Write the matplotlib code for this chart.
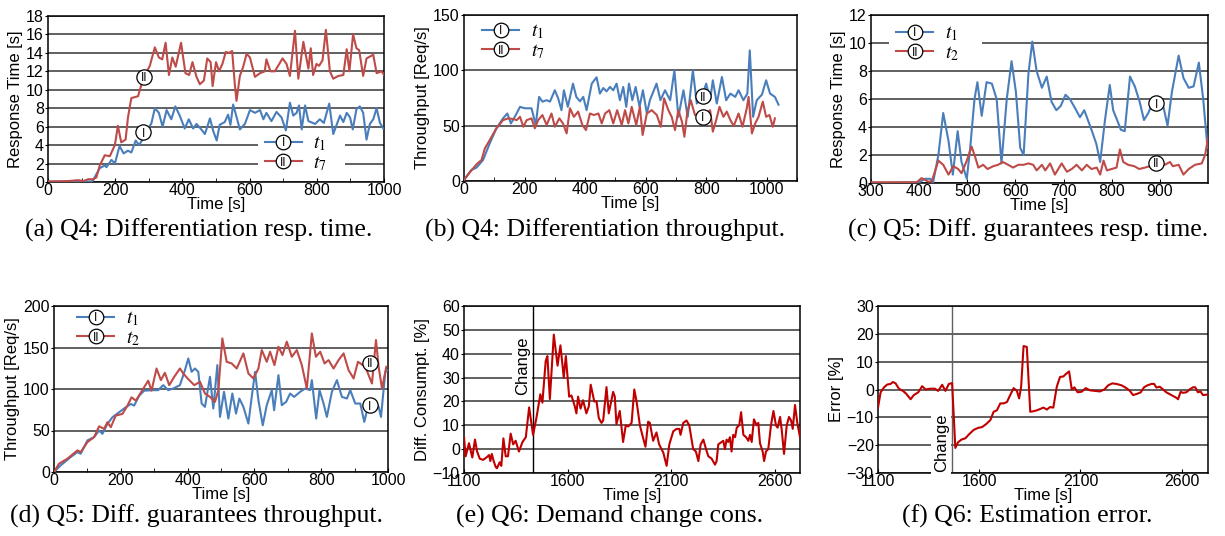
import numpy as np
import matplotlib
matplotlib.use("Agg")
import matplotlib.pyplot as plt
from matplotlib.lines import Line2D
from matplotlib.text import Text
from matplotlib.patches import Rectangle
from matplotlib.legend_handler import HandlerBase
from matplotlib.ticker import MultipleLocator

plt.rcParams['font.family'] = ['Liberation Sans', 'DejaVu Sans']
plt.rcParams['mathtext.fontset'] = 'stix'

# ---------------- data ----------------
# (a) Q4 response time, t1 and t7
a_t1 = [(0, 0.05), (50, 0.05), (100, 0.08), (130, 0.05), (134, 0.2), (154, 1.5), (169, 1.8), (174, 1.6),
        (189, 2.4), (199, 2.0), (213, 3.9), (225, 3.1), (238, 3.4), (248, 3.2), (261, 4.5), (271, 4.0),
        (283, 4.7), (308, 6.4), (318, 8.0), (330, 7.5), (341, 6.0), (353, 7.8), (367, 6.8), (379, 8.2),
        (392, 7.2), (407, 5.8), (419, 6.8), (432, 5.8), (442, 6.3), (454, 5.8), (467, 5.2), (482, 6.9),
        (492, 5.5), (502, 4.5), (511, 6.2), (526, 6.5), (536, 7.3), (543, 6.2), (551, 8.4), (563, 6.8),
        (571, 5.7), (586, 6.3), (601, 7.8), (616, 7.5), (631, 7.8), (641, 6.8), (650, 7.5), (665, 6.6),
        (680, 7.6), (695, 7.0), (708, 5.6), (720, 8.6), (730, 7.2), (740, 7.5), (747, 8.3), (755, 5.7),
        (765, 8.3), (775, 6.6), (795, 6.3), (809, 6.8), (821, 6.4), (837, 8.5), (849, 5.2), (859, 6.2),
        (869, 7.2), (879, 6.5), (889, 7.5), (899, 7.0), (907, 5.7), (918, 7.9), (928, 8.2), (938, 7.5),
        (948, 4.6), (958, 6.3), (968, 6.8), (978, 8.0), (988, 6.4), (998, 5.8)]
a_t7 = [(0, 0.05), (60, 0.1), (90, 0.2), (105, 0.1), (120, 0.3), (135, 0.3), (144, 0.5), (154, 1.8),
        (169, 2.9), (184, 2.8), (199, 4.0), (208, 6.1), (218, 4.3), (231, 4.6), (238, 7.0), (248, 9.1),
        (268, 9.3), (283, 11.2), (303, 12.6), (318, 14.6), (330, 13.5), (340, 13.3), (350, 15.1),
        (360, 11.6), (370, 13.5), (380, 12.5), (396, 15.1), (409, 11.8), (420, 11.6), (430, 13.0),
        (442, 11.4), (452, 10.6), (464, 11.0), (474, 13.4), (484, 13.0), (490, 10.4), (500, 13.0),
        (509, 12.0), (519, 12.8), (529, 14.1), (539, 14.0), (548, 14.2), (556, 10.6), (561, 8.8),
        (571, 11.5), (581, 12.5), (591, 13.9), (601, 13.5), (616, 11.4), (631, 11.8), (645, 12.0),
        (650, 13.3), (662, 12.0), (675, 12.0), (685, 12.6), (698, 13.4), (710, 12.8), (720, 11.5),
        (735, 16.4), (745, 11.2), (760, 15.2), (775, 12.3), (782, 14.5), (789, 11.6), (799, 12.8),
        (807, 12.6), (817, 13.2), (827, 16.5), (839, 12.0), (849, 11.2), (864, 11.5), (879, 11.6),
        (889, 14.4), (897, 12.0), (908, 16.0), (918, 14.5), (926, 14.3), (938, 11.5), (948, 13.4),
        (958, 13.6), (968, 13.8), (978, 11.8), (993, 12.0), (1000, 11.6)]

# (b) Q4 throughput, t1 and t7
b_t1 = [(0, 1), (24, 10), (41, 12), (63, 19), (85, 34), (107, 47.6), (129, 56.6), (143, 61), (155, 52),
        (171, 59.6), (185, 67), (201, 65.7), (223, 65.7), (237, 50.6), (248, 76), (259, 71.7), (273, 73),
        (284, 71.7), (300, 82), (311, 74.7), (322, 64), (330, 82), (343, 67), (360, 88), (371, 76),
        (383, 72), (394, 76), (405, 64), (422, 88), (438, 93.7), (449, 79), (460, 84), (471, 81),
        (482, 85), (493, 82), (504, 88), (515, 73), (526, 85), (536, 67), (545, 88), (556, 73), (567, 85),
        (580, 67), (591, 82), (604, 61), (614, 73), (636, 88), (649, 73), (664, 82), (681, 73), (695, 100),
        (708, 58), (725, 82), (739, 58), (756, 100), (769, 70), (786, 76), (800, 88), (813, 73), (822, 91),
        (835, 70), (852, 94), (866, 73), (880, 79), (896, 76), (907, 82), (923, 73), (936, 79), (944, 118),
        (955, 58), (967, 73), (984, 78), (998, 91), (1011, 79), (1027, 76), (1039, 69)]
b_t7 = [(0, 1), (20, 8), (41, 15), (58, 19), (69, 29.5), (85, 37), (107, 47.6), (129, 55), (146, 56.6),
        (163, 56), (174, 55), (185, 58), (196, 49), (207, 55), (223, 56.6), (234, 47.6), (245, 55),
        (259, 59.6), (273, 50.6), (289, 61), (300, 49), (315, 56.6), (327, 52), (339, 43), (350, 65.7),
        (363, 58), (377, 62.7), (391, 50.6), (403, 46), (416, 61), (429, 59.6), (444, 61), (455, 52),
        (466, 61), (480, 64), (493, 52), (506, 64), (521, 50.6), (532, 64), (543, 52), (554, 67),
        (569, 50.6), (581, 67), (590, 41.6), (604, 61), (620, 64), (637, 59.6), (650, 49), (661, 74.7),
        (675, 64), (686, 58), (697, 46), (708, 64), (720, 53.6), (728, 40), (738, 62.7), (749, 73),
        (763, 59.6), (780, 61), (791, 50.6), (802, 61), (813, 64), (822, 44.6), (833, 55), (844, 67),
        (857, 58), (868, 62.7), (880, 55), (891, 49.7), (907, 61), (920, 49), (934, 65.7), (940, 76),
        (951, 43), (962, 52), (973, 58), (987, 71.7), (998, 58), (1009, 59.6), (1020, 49), (1027, 56.6)]

# (c) Q5 response time, t1 and t2
c_t1 = [(300, 0.02), (400, 0.05), (412, 0.3), (423, 0.3), (429, 0.05), (440, 2.0), (450, 5.0), (461, 3.0),
        (470, 0.6), (480, 3.7), (488, 1.5), (499, 0.3), (506, 2.5), (515, 6.0), (521, 7.2), (530, 4.8),
        (540, 7.2), (551, 7.1), (561, 6.0), (571, 1.4), (582, 6.0), (592, 8.7), (601, 6.5), (610, 2.5),
        (617, 2.0), (627, 7.8), (635, 10.1), (644, 8.0), (655, 6.8), (665, 7.6), (675, 5.8), (685, 5.2),
        (694, 5.5), (704, 6.3), (713, 6.0), (723, 5.4), (734, 4.7), (743, 5.2), (758, 3.8), (768, 2.8),
        (776, 1.5), (786, 4.5), (796, 7.0), (803, 5.2), (810, 4.6), (819, 3.8), (827, 3.7), (838, 7.6),
        (848, 6.9), (858, 5.8), (867, 4.5), (876, 5.0), (886, 5.8), (900, 5.7), (907, 5.5), (916, 4.1),
        (925, 6.5), (939, 9.1), (949, 7.5), (960, 6.8), (970, 6.9), (981, 8.6), (990, 6.0), (999, 2.5)]
c_t2 = [(300, 0.05), (395, 0.05), (405, 0.35), (419, 0.1), (426, 0.1), (440, 1.6), (450, 1.3), (461, 0.6),
        (471, 1.2), (481, 1.0), (488, 0.7), (499, 1.6), (509, 2.6), (516, 1.9), (523, 1.1), (533, 1.3),
        (542, 1.0), (554, 1.2), (564, 1.3), (574, 1.5), (585, 1.3), (595, 1.1), (606, 1.3), (617, 1.3),
        (627, 1.4), (637, 1.3), (644, 0.9), (655, 1.3), (662, 0.9), (672, 1.4), (682, 0.6), (696, 1.4),
        (707, 0.8), (717, 1.0), (727, 1.3), (738, 0.9), (748, 1.3), (758, 1.0), (769, 1.1), (776, 0.6),
        (783, 1.6), (790, 0.9), (800, 1.0), (810, 1.1), (817, 2.4), (824, 1.5), (834, 1.3), (847, 1.2),
        (857, 1.0), (869, 1.1), (879, 1.2), (893, 1.4), (910, 1.3), (921, 1.5), (927, 1.2), (939, 1.3),
        (949, 0.6), (960, 1.0), (973, 1.3), (987, 1.4), (994, 2.0), (1000, 3.2)]

# (d) Q5 throughput, t1 and t2
d_t1 = [(0, 0), (20, 8), (50, 18), (70, 24), (80, 22), (100, 38), (120, 42), (135, 50), (145, 46),
        (160, 58), (175, 66), (195, 72), (215, 78), (230, 82), (240, 80), (255, 92), (270, 98), (297, 98.6),
        (312, 98.6), (327, 104.6), (342, 98.6), (357, 100.6), (377, 104.6), (392, 122.7), (402, 136.8),
        (412, 120.7), (422, 124.7), (432, 120.7), (442, 82.5), (452, 78.5), (467, 114.7), (477, 76.5),
        (489, 128.8), (497, 66.4), (509, 96.6), (522, 64.4), (534, 94.6), (545, 70.4), (555, 88.5),
        (567, 78.5), (582, 58.4), (592, 90.5), (602, 120.7), (612, 86.5), (625, 56.3), (637, 80.5),
        (652, 98.6), (659, 74.4), (672, 116.7), (682, 80.5), (695, 84.5), (707, 94.6), (719, 90.5),
        (737, 96.6), (752, 100.6), (767, 98.6), (772, 110.7), (785, 64.4), (795, 98.6), (807, 82.5),
        (817, 66.4), (832, 96.6), (847, 110.7), (862, 90.5), (877, 88.5), (887, 98.6), (902, 82.5),
        (917, 82.5), (929, 60.4), (942, 82.5), (957, 86.5), (972, 78.5), (979, 66.4), (992, 120.7),
        (1000, 122.7)]
d_t2 = [(0, 0), (15, 10), (40, 16), (70, 26), (80, 24), (100, 36), (120, 42), (135, 55), (150, 52),
        (160, 60), (170, 54), (185, 68), (205, 70), (220, 80), (232, 90), (245, 86), (262, 97), (282, 110),
        (292, 98), (307, 124.7), (320, 110.7), (332, 119.5), (345, 104.6), (360, 114.7), (377, 124.7),
        (387, 118.7), (400, 112.7), (420, 104.6), (437, 108.7), (452, 94.6), (467, 90.5), (482, 84.5),
        (492, 98.6), (504, 161), (517, 132.8), (532, 130.8), (547, 124.7), (567, 142.9), (582, 118.7),
        (597, 112.7), (612, 124.7), (622, 146.9), (637, 132.8), (647, 144.9), (660, 128.8), (672, 151),
        (684, 140.9), (697, 157), (712, 138.8), (727, 146.9), (742, 128.8), (757, 100.6), (772, 167),
        (784, 138.8), (797, 144.9), (810, 130.8), (822, 134.8), (837, 124.7), (852, 134.8), (867, 142.9),
        (882, 122.7), (897, 112.7), (910, 132.8), (932, 126.7), (952, 106.6), (964, 159), (972, 126.7),
        (982, 100.6), (995, 126.7)]

# (e) Q6 difference in consumption [%]
e_diff = [(1100, 5), (1108, -3), (1124, 2.5), (1140, -3.5), (1153, 4), (1163, -1), (1176, -4), (1192, -4.5),
          (1208, -3.5), (1221, -2.5), (1227, -5), (1234, -2), (1243, -5), (1253, -7.5), (1259, -8),
          (1272, -5.5), (1280, -7), (1290, 4.5), (1301, -3), (1312, -3), (1325, 6.5), (1337, 2), (1349, 3.5),
          (1365, -1), (1382, 3), (1398, 5), (1414, 17.5), (1433, 6), (1449, 13), (1468, 23), (1478, 19.5),
          (1494, 37), (1502, 39), (1514, 21), (1533, 48), (1551, 35), (1565, 43.5), (1581, 30), (1591, 39),
          (1607, 22), (1618, 22.5), (1634, 18), (1642, 15), (1650, 22), (1662, 17), (1674, 20.5), (1690, 15),
          (1702, 18), (1711, 27), (1728, 20), (1739, 20), (1750, 13), (1763, 11), (1771, 12), (1787, 26),
          (1798, 15), (1819, 24), (1827, 22), (1835, 10.5), (1851, 16), (1867, 3), (1880, 10), (1892, 9.5),
          (1908, 11), (1921, 25), (1932, 20), (1948, 10), (1964, 4.5), (1975, 1), (1988, 11.5), (1996, 11),
          (2012, 3.5), (2028, 7), (2041, 2), (2061, -1.5), (2077, -7), (2090, 2), (2109, 7.5), (2125, 8.5),
          (2138, 8.5), (2144, 6), (2157, 11), (2173, 12), (2186, 10), (2205, 0), (2218, -1), (2230, -5),
          (2241, 2), (2254, 4), (2267, 0), (2278, -3), (2294, -4), (2310, -6.5), (2318, -5), (2326, 2),
          (2342, 3), (2350, 3.5), (2358, 0), (2366, 4), (2374, 3), (2382, 5), (2390, -1), (2398, 6),
          (2407, 5), (2415, 9), (2427, 10), (2436, 15.5), (2447, 6), (2460, 5), (2471, 3.5), (2479, 6),
          (2487, 3), (2498, 12.5), (2511, 10), (2519, 11), (2527, 2.5), (2540, -1), (2547, -5), (2556, -1),
          (2567, 0), (2580, 10), (2592, 16), (2604, 10), (2612, 9), (2624, 13.5), (2632, 8), (2643, -2),
          (2656, 10), (2667, 13.5), (2677, 12), (2685, 8.5), (2696, 18.5), (2707, 11), (2720, 5)]

# (f) Q6 estimation error [%]
f_err = [(1100, -6.5), (1113, -1), (1130, 0.8), (1146, 1.8), (1162, 2), (1174, 2.7), (1187, 2.2), (1203, 0.3),
         (1223, -0.5), (1239, -1.5), (1261, -3.5), (1277, -2), (1299, -1), (1318, 1.2), (1335, 0), (1359, 0.3),
         (1381, 0.3), (1397, -0.5), (1417, 1.7), (1433, -0.5), (1450, 2), (1466, 2.3), (1482, -21), (1495, -19),
         (1512, -18), (1532, -17.5), (1551, -16), (1573, -14.5), (1594, -13.8), (1614, -13.5), (1633, -12.5),
         (1655, -11), (1671, -8), (1687, -7.5), (1704, -5), (1720, -5), (1737, -4.5), (1753, -2), (1770, 0.5),
         (1786, -0.5), (1797, -3.2), (1807, 1), (1819, 15.6), (1835, 15.3), (1852, -8), (1868, -7.8),
         (1884, -7.5), (1901, -7), (1917, -6.5), (1934, -7.2), (1950, -6.3), (1966, -6.5), (1983, 1),
         (1999, 4.5), (2016, 4.7), (2027, 5.5), (2044, 6.5), (2057, 0), (2070, 0.8), (2086, -1), (2106, -0.8),
         (2126, 0.5), (2147, -0.3), (2172, -0.5), (2196, -0.7), (2218, 0), (2237, 1.5), (2257, 2.2), (2278, 2),
         (2303, 1.5), (2327, 0.5), (2344, -0.5), (2360, -2), (2382, -1.5), (2398, -1), (2414, 0.8),
         (2431, 1.5), (2451, 2), (2464, 2), (2475, 0.7), (2492, 1), (2508, 0), (2524, -1), (2549, -2),
         (2574, -3), (2582, -3.5), (2595, -0.8), (2606, -1.2), (2623, -1), (2639, 0), (2656, 0.8),
         (2667, 0.8), (2680, -1), (2693, -0.7), (2705, -2), (2730, -1.8)]

change_e = 1433
change_f = 1466

captions = ["(a) Q4: Differentiation resp. time.",
            "(b) Q4: Differentiation throughput.",
            "(c) Q5: Diff. guarantees resp. time.",
            "(d) Q5: Diff. guarantees throughput.",
            "(e) Q6: Demand change cons.",
            "(f) Q6: Estimation error."]

# ---------------- styling ----------------
BLUE = '#4a7ebb'
RED = '#be4b48'
DARKRED = '#c00000'
LW = 1.5
GRID = '#454545'
W, H = 1225, 536

fig = plt.figure(figsize=(W / 100, H / 100), dpi=100)


def panel(l, t, r, b):
    return fig.add_axes([l / W, 1 - b / H, (r - l) / W, (b - t) / H])


def xy(pairs):
    arr = np.array(pairs, dtype=float)
    return arr[:, 0], arr[:, 1]


def style(ax, xlim, xticks, ylim, yticks, ylabel, xminor=None):
    ax.set_xlim(*xlim)
    ax.set_ylim(*ylim)
    ax.set_xticks(xticks)
    ax.set_yticks(yticks)
    if xminor:
        ax.xaxis.set_minor_locator(MultipleLocator(xminor))
    ax.yaxis.grid(True, color=GRID, lw=1.2)
    ax.set_axisbelow(True)
    for s in ax.spines.values():
        s.set_linewidth(1.1)
        s.set_color('black')
    ax.tick_params(axis='both', labelsize=11.5, pad=1)
    ax.tick_params(axis='x', direction='in', length=3, which='both')
    ax.tick_params(axis='y', direction='out', length=2)
    ax.set_xlabel('Time [s]', fontsize=12, labelpad=-1)
    ax.set_ylabel(ylabel, fontsize=12, labelpad=2)


def tag(ax, x, y, numeral):
    ax.plot([x], [y], ls='none', marker='o', ms=11, mfc='white', mec='black', mew=0.9, zorder=6,
            clip_on=False)
    ax.text(x, y, numeral, ha='center', va='center_baseline', fontsize=8.5, zorder=7)


class SeriesKey:
    def __init__(self, color, numeral):
        self.color = color
        self.numeral = numeral


class SeriesKeyHandler(HandlerBase):
    def create_artists(self, legend, orig_handle, xdescent, ydescent, width, height, fontsize, trans):
        x0 = -xdescent
        cy = height / 2 - ydescent
        line = Line2D([x0, x0 + width], [cy, cy], color=orig_handle.color, lw=LW, transform=trans)
        ring = Line2D([x0 + width / 2], [cy], ls='none', marker='o', ms=10.5, mfc='white',
                      mec='black', mew=0.9, transform=trans)
        txt = Text(x0 + width / 2, cy, orig_handle.numeral, ha='center', va='center_baseline',
                   fontsize=8.5, transform=trans)
        return [line, ring, txt]


def legend(ax, colors, labels, anchor, backdrop=None):
    keys = [SeriesKey(c, n) for c, n in zip(colors, ['I', 'II'])]
    leg = ax.legend(keys, labels, handler_map={SeriesKey: SeriesKeyHandler()},
                    loc='center left', bbox_to_anchor=anchor, frameon=False, fontsize=14,
                    handlelength=1.9, handletextpad=0.6, labelspacing=0.05, borderpad=0.0,
                    borderaxespad=0)
    leg.set_zorder(8)
    if backdrop is not None:
        x0, y0, x1, y1 = backdrop
        ax.add_patch(Rectangle((x0, y0), x1 - x0, y1 - y0, transform=ax.transAxes,
                               fc='white', ec='none', zorder=1.5))


# (a)
ax = panel(48, 16, 384, 182)
for pairs, c in ((a_t1, BLUE), (a_t7, RED)):
    ax.plot(*xy(pairs), color=c, lw=LW, zorder=3)
style(ax, (0, 1000), range(0, 1001, 200), (0, 18), range(0, 19, 2), 'Response Time [s]', 100)
tag(ax, 285, 11.4, 'II')
tag(ax, 283, 5.4, 'I')
legend(ax, (BLUE, RED), ['$t_1$', '$t_7$'], (0.645, 0.17), backdrop=(0.625, 0.07, 0.884, 0.265))

# (b)
ax = panel(464, 15, 797, 181)
for pairs, c in ((b_t1, BLUE), (b_t7, RED)):
    ax.plot(*xy(pairs), color=c, lw=LW, zorder=3)
style(ax, (0, 1100), range(0, 1001, 200), (0, 150), range(0, 151, 50), 'Throughput [Req/s]', 100)
tag(ax, 791, 76.8, 'II')
tag(ax, 788, 58, 'I')
legend(ax, (BLUE, RED), ['$t_1$', '$t_7$'], (0.055, 0.84))

# (c)
ax = panel(871, 15, 1208, 183)
for pairs, c in ((c_t1, BLUE), (c_t2, RED)):
    ax.plot(*xy(pairs), color=c, lw=LW, zorder=3)
style(ax, (300, 1000), range(300, 901, 100), (0, 12), range(0, 13, 2), 'Response Time [s]')
tag(ax, 893, 5.7, 'I')
tag(ax, 893, 1.45, 'II')
legend(ax, (BLUE, RED), ['$t_1$', '$t_2$'], (0.075, 0.83), backdrop=(0.053, 0.71, 0.33, 0.95))

# (d)
ax = panel(54, 306, 388, 472)
for pairs, c in ((d_t1, BLUE), (d_t2, RED)):
    ax.plot(*xy(pairs), color=c, lw=LW, zorder=3)
style(ax, (0, 1000), range(0, 1001, 200), (0, 200), range(0, 201, 50), 'Throughput [Req/s]', 100)
tag(ax, 945, 131.6, 'II')
tag(ax, 945, 80.5, 'I')
legend(ax, (BLUE, RED), ['$t_1$', '$t_2$'], (0.07, 0.864))

# (e)
ax = panel(464, 306, 800, 473)
ax.plot(*xy(e_diff), color=DARKRED, lw=LW, zorder=3)
style(ax, (1100, 2720), [1100, 1600, 2100, 2600], (-10, 60), range(-10, 61, 10), 'Diff. Consumpt. [%]')
ax.axvline(change_e, color='black', lw=1.0, zorder=2)
ax.text(change_e - 51, 35, 'Change', rotation=90, ha='center', va='center', fontsize=12, zorder=4,
        bbox=dict(boxstyle='square,pad=0.15', fc='white', ec='none'))

# (f)
ax = panel(878, 306, 1208, 473)
ax.plot(*xy(f_err), color=DARKRED, lw=LW, zorder=3)
style(ax, (1100, 2730), [1100, 1600, 2100, 2600], (-30, 30), range(-30, 31, 10), 'Error [%]')
ax.axvline(change_f, color='#606060', lw=1.0, zorder=2)
ax.text(change_f - 53, -19, 'Change', rotation=90, ha='center', va='center', fontsize=12, zorder=4,
        bbox=dict(boxstyle='square,pad=0.15', fc='white', ec='none'))

# captions
cap_pos = [(199, 230), (605, 230), (1028, 230), (196, 516), (610, 516), (1027, 516)]
for (cx, cy), text in zip(cap_pos, captions):
    fig.text(cx / W, 1 - cy / H, text, ha='center', va='center', fontsize=18.5,
             family=['Liberation Serif', 'DejaVu Serif'])

fig.savefig('out.png', dpi=100)
